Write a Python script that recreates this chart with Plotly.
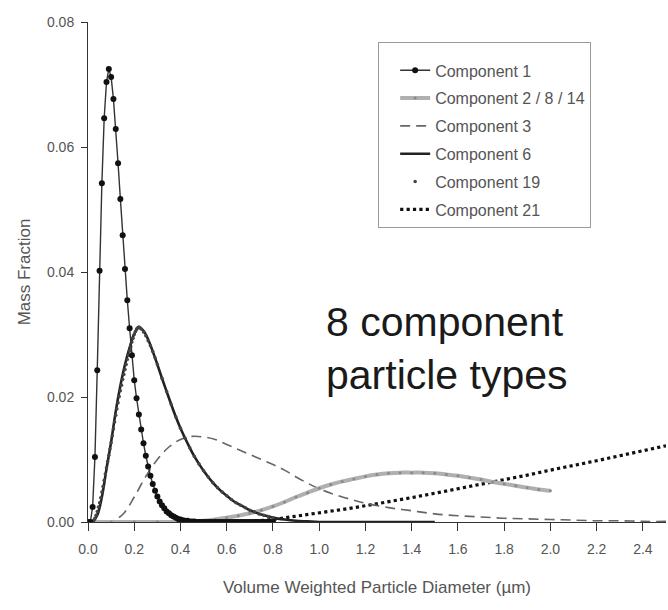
import plotly.graph_objects as go

# ---------------- data ----------------
c1_x = [0.00, 0.01, 0.02, 0.03, 0.04, 0.05, 0.06, 0.07, 0.08, 0.09, 0.10, 0.11, 0.12, 0.13, 0.14,
        0.15, 0.16, 0.17, 0.18, 0.19, 0.20, 0.21, 0.22, 0.23, 0.24, 0.25, 0.26, 0.27, 0.28, 0.29,
        0.30, 0.31, 0.32, 0.33, 0.34, 0.35, 0.36, 0.37, 0.38, 0.39, 0.40, 0.41, 0.42, 0.43, 0.44,
        0.45, 0.46, 0.47, 0.48, 0.49, 0.50, 0.51, 0.52, 0.53, 0.54, 0.55, 0.56, 0.57, 0.58, 0.59,
        0.60, 0.61, 0.62, 0.63, 0.64, 0.65, 0.66, 0.67, 0.68, 0.69, 0.70, 0.71, 0.72, 0.73, 0.74,
        0.75, 0.76, 0.77, 0.78, 0.79, 0.80]
c1_y = [0.0, 0.0, 0.0024, 0.0104, 0.0243, 0.0402, 0.0542, 0.0646, 0.0704, 0.0725, 0.0712, 0.0677,
        0.0629, 0.0574, 0.0517, 0.0459, 0.0405, 0.0355, 0.0310, 0.0267, 0.0227, 0.0198, 0.0172,
        0.0148, 0.0126, 0.0106, 0.0089, 0.0074, 0.0061, 0.0050, 0.0041, 0.0033, 0.0027, 0.0022,
        0.0017, 0.0014, 0.0011, 0.0009, 0.0007, 0.0005, 0.0004, 0.0003, 0.0002, 0.0002, 0.0001,
        0.0001, 0.0001, 0.0, 0.0, 0.0, 0.0, 0.0, 0.0, 0.0, 0.0, 0.0, 0.0, 0.0, 0.0, 0.0,
        0.0, 0.0, 0.0, 0.0, 0.0, 0.0, 0.0, 0.0, 0.0, 0.0, 0.0, 0.0, 0.0, 0.0, 0.0,
        0.0, 0.0, 0.0, 0.0, 0.0, 0.0]

c2_x = [0.00, 0.10, 0.20, 0.30, 0.40, 0.45, 0.50, 0.55, 0.60, 0.65, 0.70, 0.75, 0.80, 0.85, 0.90,
        0.95, 1.00, 1.05, 1.10, 1.15, 1.20, 1.25, 1.30, 1.35, 1.40, 1.45, 1.50, 1.55, 1.60, 1.65,
        1.70, 1.75, 1.80, 1.85, 1.90, 1.95, 2.00]
c2_y = [0.0, 0.0, 0.0, 0.0, 0.0, 0.0001, 0.0002, 0.0004, 0.0007, 0.0010, 0.0014, 0.0019, 0.0025,
        0.0032, 0.0040, 0.0047, 0.0054, 0.0060, 0.0065, 0.0069, 0.0073, 0.0076, 0.0078, 0.0079,
        0.0079, 0.0079, 0.0078, 0.0076, 0.0074, 0.0071, 0.0068, 0.0064, 0.0061, 0.0058, 0.0055,
        0.0052, 0.0050]

c3_x = [0.00, 0.05, 0.10, 0.15, 0.20, 0.25, 0.30, 0.35, 0.40, 0.45, 0.50, 0.55, 0.60, 0.65, 0.70,
        0.75, 0.80, 0.85, 0.90, 0.95, 1.00, 1.05, 1.10, 1.15, 1.20, 1.30, 1.40, 1.50, 1.60, 1.70,
        1.80, 1.90, 2.00, 2.10, 2.20, 2.30, 2.40, 2.50]
c3_y = [0.0, 0.0, 0.0001, 0.0012, 0.0040, 0.0073, 0.0100, 0.0120, 0.0132, 0.0137, 0.0136, 0.0132,
        0.0124, 0.0116, 0.0108, 0.0100, 0.0092, 0.0083, 0.0072, 0.0062, 0.0053, 0.0046, 0.0040,
        0.0035, 0.0030, 0.0023, 0.0018, 0.0013, 0.0010, 0.0008, 0.0006, 0.0005, 0.0004, 0.0003,
        0.0002, 0.0002, 0.0001, 0.0001]

c6_x = [0.00, 0.02, 0.04, 0.06, 0.08, 0.10, 0.12, 0.14, 0.16, 0.18, 0.20, 0.22, 0.24, 0.26, 0.28,
        0.30, 0.32, 0.34, 0.36, 0.38, 0.40, 0.42, 0.44, 0.46, 0.48, 0.50, 0.52, 0.54, 0.56, 0.58,
        0.60, 0.62, 0.64, 0.66, 0.68, 0.70, 0.72, 0.74, 0.76, 0.78, 0.80, 0.85, 0.90, 0.95, 1.00,
        1.10, 1.20, 1.30, 1.40, 1.50]
c6_y = [0.0, 0.0001, 0.0011, 0.0040, 0.0085, 0.0128, 0.0177, 0.0218, 0.0252, 0.0279, 0.0301,
        0.0311, 0.0306, 0.0292, 0.0273, 0.0252, 0.0230, 0.0209, 0.0188, 0.0168, 0.0150, 0.0134,
        0.0119, 0.0105, 0.0093, 0.0082, 0.0072, 0.0063, 0.0055, 0.0048, 0.0042, 0.0036, 0.0031,
        0.0027, 0.0023, 0.0019, 0.0016, 0.0013, 0.0011, 0.0009, 0.0007, 0.0004, 0.0002, 0.0001,
        0.0, 0.0, 0.0, 0.0, 0.0, 0.0]

c19_x = [0.000, 0.005, 0.010, 0.015, 0.020, 0.025, 0.030, 0.035, 0.040, 0.045, 0.050, 0.055,
         0.060, 0.065, 0.070, 0.075, 0.080, 0.085, 0.090, 0.095, 0.100, 0.105, 0.110, 0.115,
         0.120, 0.125, 0.130, 0.135, 0.140, 0.145, 0.150, 0.155, 0.160, 0.165, 0.170, 0.175,
         0.180, 0.185, 0.190, 0.195, 0.200, 0.205, 0.210, 0.215, 0.220, 0.225, 0.230, 0.240,
         0.250, 0.260, 0.270, 0.280, 0.290, 0.300, 0.320, 0.340, 0.360, 0.380, 0.400, 0.420,
         0.440, 0.460, 0.480, 0.500, 0.520, 0.540, 0.560, 0.580, 0.600, 0.620, 0.640, 0.660,
         0.680, 0.700, 0.720, 0.740, 0.760, 0.780, 0.800]
c19_y = [0.0, 0.0, 0.0, 0.0, 0.0001, 0.0003, 0.0006, 0.0011, 0.0017, 0.0024, 0.0031, 0.0039,
         0.0048, 0.0057, 0.0067, 0.0077, 0.0087, 0.0097, 0.0107, 0.0117, 0.0127, 0.0138, 0.0149,
         0.0160, 0.0171, 0.0181, 0.0191, 0.0201, 0.0210, 0.0219, 0.0228, 0.0236, 0.0244, 0.0252,
         0.0260, 0.0267, 0.0274, 0.0281, 0.0288, 0.0294, 0.0300, 0.0305, 0.0309, 0.0311, 0.0312,
         0.0311, 0.0309, 0.0304, 0.0298, 0.0290, 0.0282, 0.0273, 0.0263, 0.0252, 0.0230, 0.0209,
         0.0188, 0.0168, 0.0150, 0.0134, 0.0119, 0.0105, 0.0093, 0.0082, 0.0072, 0.0063, 0.0055,
         0.0048, 0.0042, 0.0036, 0.0031, 0.0027, 0.0023, 0.0019, 0.0016, 0.0013, 0.0011, 0.0009,
         0.0007]

c21_x = [0.0, 0.1, 0.2, 0.3, 0.4, 0.5, 0.6, 0.7, 0.8, 0.9, 1.0, 1.1, 1.2, 1.3, 1.4, 1.5, 1.6,
         1.7, 1.8, 1.9, 2.0, 2.1, 2.2, 2.3, 2.4, 2.5]
c21_y = [0.0, 0.0, 0.0, 0.0, 0.0, 0.0, 0.0, 0.0001, 0.0004, 0.0009, 0.0014, 0.0020, 0.0026,
         0.0032, 0.0039, 0.0046, 0.0053, 0.0060, 0.0068, 0.0075, 0.0083, 0.0090, 0.0098, 0.0106,
         0.0114, 0.0122]

x_ticks = [0.0, 0.2, 0.4, 0.6, 0.8, 1.0, 1.2, 1.4, 1.6, 1.8, 2.0, 2.2, 2.4]
x_ticktext = ["0.0", "0.2", "0.4", "0.6", "0.8", "1.0", "1.2", "1.4", "1.6", "1.8", "2.0", "2.2", "2.4"]
y_ticks = [0.00, 0.02, 0.04, 0.06, 0.08]
y_ticktext = ["0.00", "0.02", "0.04", "0.06", "0.08"]

names = ["Component 1", "Component 2 / 8 / 14", "Component 3", "Component 6",
         "Component 19", "Component 21"]
note_text = "8 component<br>particle types"
x_title = "Volume Weighted Particle Diameter (µm)"
y_title = "Mass Fraction"

FONT = "Liberation Sans, Arial, sans-serif"

# ---------------- figure ----------------
fig = go.Figure()

fig.add_trace(go.Scatter(x=c21_x, y=c21_y, mode="lines", name=names[5], legendrank=6,
                         legendgroup="g6",
                         line=dict(color="#111111", width=3.2, dash="dot")))
fig.add_trace(go.Scatter(x=c3_x, y=c3_y, mode="lines", name=names[2], legendrank=3,
                         legendgroup="g3",
                         line=dict(color="#666666", width=1.6, dash="10px,6px"), line_shape="spline"))
fig.add_trace(go.Scatter(x=c2_x, y=c2_y, mode="lines+markers", name=names[1], legendrank=2,
                         legendgroup="g2",
                         line=dict(color="#b0b0b0", width=4), line_shape="spline",
                         marker=dict(size=3, color="#8a8a8a")))
fig.add_trace(go.Scatter(x=c6_x, y=c6_y, mode="lines", name=names[3], legendrank=4,
                         legendgroup="g4",
                         line=dict(color="#222222", width=2.6), line_shape="spline"))
fig.add_trace(go.Scatter(x=c19_x, y=c19_y, mode="markers", name=names[4], legendrank=5,
                         legendgroup="g5",
                         marker=dict(size=3.5, color="#444444")))
fig.add_trace(go.Scatter(x=c1_x, y=c1_y, mode="lines+markers", name=names[0], legendrank=1,
                         legendgroup="g1",
                         line=dict(color="#333333", width=1.4),
                         marker=dict(size=6, color="#111111")))

fig.add_annotation(x=(324 - 88) / 578, y=(522 - 348) / 500, xref="paper", yref="paper",
                   text=note_text, showarrow=False, xanchor="left", yanchor="middle",
                   align="left", font=dict(family=FONT, size=41, color="#1a1a1a"))

axis_font = dict(family=FONT, size=14, color="#555555")
title_font = dict(family=FONT, size=17, color="#555555")

fig.update_layout(
    width=668, height=610,
    margin=dict(l=88, r=2, t=22, b=88),
    paper_bgcolor="white", plot_bgcolor="white",
    showlegend=True,
    legend=dict(x=0.502, y=0.96, xanchor="left", yanchor="top",
                bordercolor="#9a9a9a", borderwidth=1, bgcolor="white",
                font=dict(family=FONT, size=16, color="#555555"),
                title=dict(text=" ", font=dict(family=FONT, size=8)),
                traceorder="grouped", tracegroupgap=4, indentation=16),
    xaxis=dict(range=[0, 2.5], tickmode="array", tickvals=x_ticks, ticktext=x_ticktext,
               showgrid=False, zeroline=False, showline=True, linecolor="#333333", linewidth=1,
               ticks="outside", ticklen=8, tickcolor="#333333", tickfont=axis_font,
               ticklabelstandoff=6,
               title=dict(text=x_title, font=title_font, standoff=25)),
    yaxis=dict(range=[0, 0.08], tickmode="array", tickvals=y_ticks, ticktext=y_ticktext,
               showgrid=False, zeroline=False, showline=True, linecolor="#333333", linewidth=1,
               ticks="outside", ticklen=6, tickcolor="#333333", tickfont=axis_font,
               ticklabelstandoff=4,
               title=dict(text=y_title, font=title_font, standoff=12)),
)

fig.write_html("out.html")
